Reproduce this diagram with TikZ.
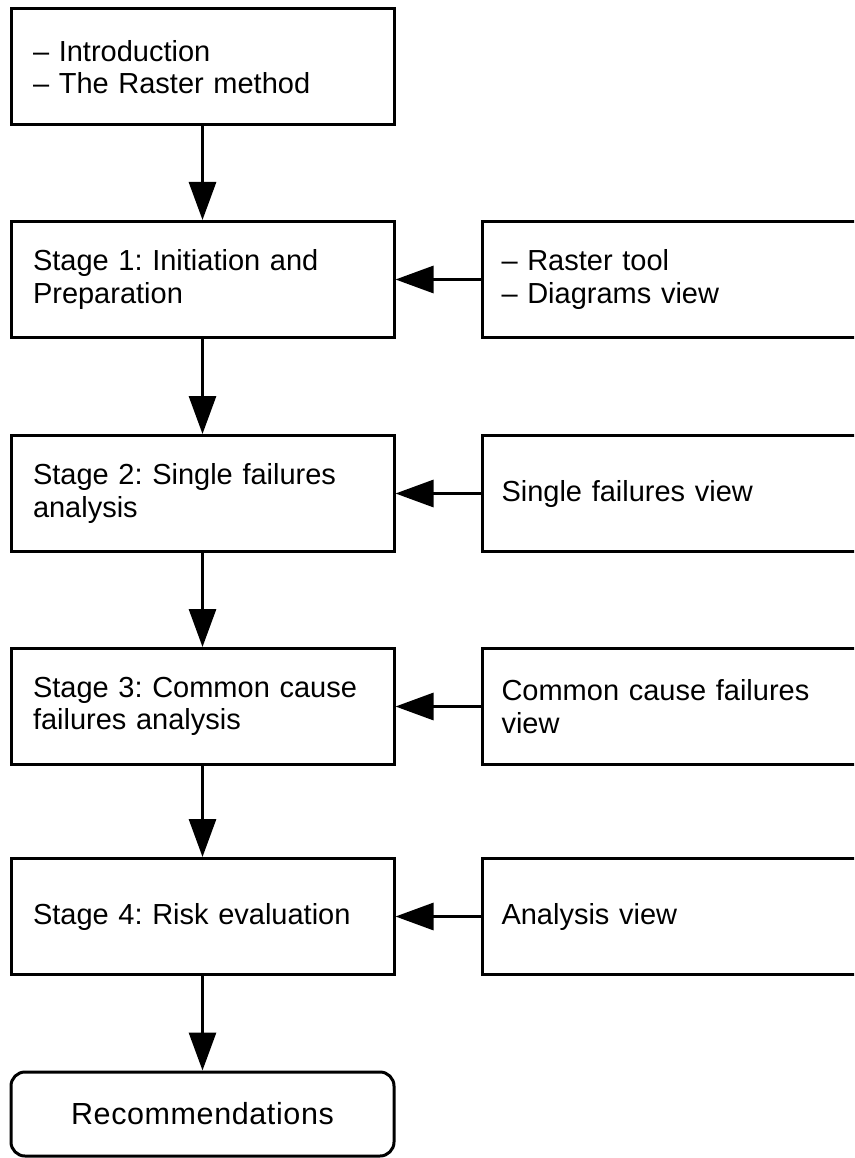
\documentclass[tikz,border=0pt]{standalone}
\usepackage{fontspec}
\setmainfont{Liberation Sans}
\usetikzlibrary{arrows.meta}
\frenchspacing
\begin{document}
\begin{tikzpicture}[x=1pt, y=-1pt,
  txt/.style={font=\fontsize{29}{32.5}\selectfont},
  stagebox/.style={txt, draw, line width=3pt, rectangle, minimum width=383pt,
    minimum height=116pt, inner xsep=22pt, inner ysep=0pt, text width=339pt, align=left},
  viewbox/.style={txt, draw, line width=3pt, rectangle, minimum width=400pt,
    minimum height=116pt, inner xsep=19pt, inner ysep=0pt, text width=362pt,
    align=left, anchor=west},
  endbox/.style={font=\fontsize{30.5}{34}\selectfont\addfontfeature{LetterSpace=2},
    draw, line width=3pt, rectangle, rounded corners=14pt,
    minimum width=383pt, minimum height=84pt, inner sep=0pt, align=center},
  flow/.style={line width=3pt, -{Triangle[length=38pt, width=27pt]}}
]
\useasboundingbox (0,0) rectangle (854,1158);
\fill[white] (0,0) rectangle (854,1158);
\clip (0,0) rectangle (854,1158);

% main column
\node[stagebox] (intro) at (202.5,67)    {– Introduction\\– The Raster method};
\node[stagebox] (s1)    at (202.5,279.5) {Stage 1: Initiation and\\Preparation};
\node[stagebox] (s2)    at (202.5,493.5) {Stage 2: Single failures\\analysis};
\node[stagebox] (s3)    at (202.5,706.5) {Stage 3: Common cause\\failures analysis};
\node[stagebox] (s4)    at (202.5,916.5) {Stage 4: Risk evaluation};
\node[endbox]   (rec)   at (202.5,1114)  {Recommendations};

% supporting views on the right
\node[viewbox] (v1) at (481,279.5) {– Raster tool\\– Diagrams view};
\node[viewbox] (v2) at (481,493.5) {Single failures view};
\node[viewbox] (v3) at (481,706.5) {Common cause failures\\view};
\node[viewbox] (v4) at (481,916.5) {Analysis view};

% flow between stages
\draw[flow] (intro.south) -- (s1.north);
\draw[flow] (s1.south) -- (s2.north);
\draw[flow] (s2.south) -- (s3.north);
\draw[flow] (s3.south) -- (s4.north);
\draw[flow] (s4.south) -- (rec.north);

% views feeding stages
\draw[flow] (v1.west) -- (s1.east);
\draw[flow] (v2.west) -- (s2.east);
\draw[flow] (v3.west) -- (s3.east);
\draw[flow] (v4.west) -- (s4.east);
\end{tikzpicture}
\end{document}
